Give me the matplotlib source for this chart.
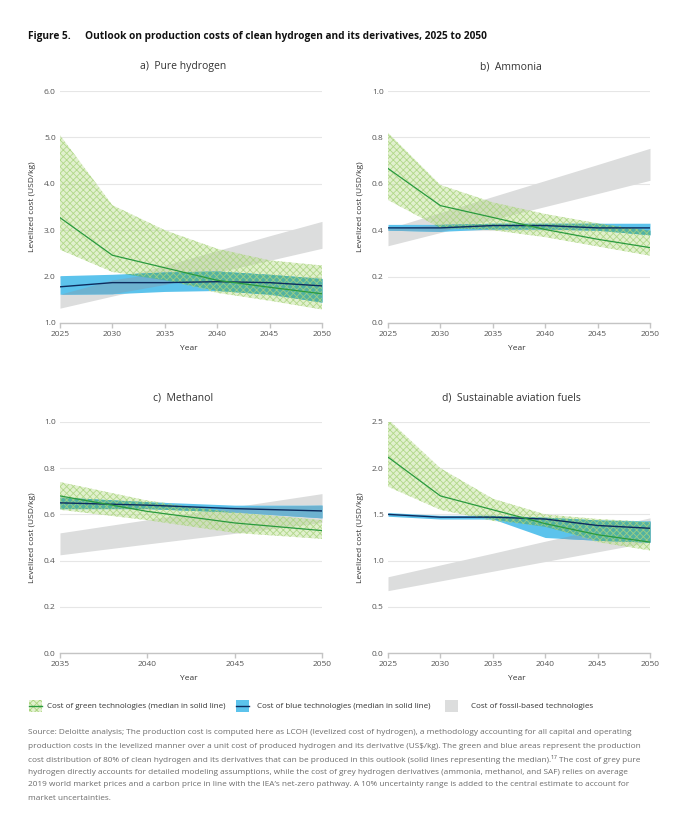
import matplotlib
matplotlib.use('Agg')
import matplotlib.pyplot as plt
import numpy as np
from matplotlib.patches import Rectangle
from matplotlib.lines import Line2D

plt.rcParams['font.family'] = ['Open Sans', 'DejaVu Sans']
plt.rcParams['hatch.linewidth'] = 0.6

W, H = 699, 827

# ---- data ----
years = [2025, 2030, 2035, 2040, 2045, 2050]
years_meoh = [2035, 2040, 2045, 2050]

h2_green_med = [3.27, 2.46, 2.19, 1.92, 1.77, 1.63]
h2_green_hi = [5.05, 3.54, 3.00, 2.60, 2.35, 2.24]
h2_green_lo = [2.58, 2.10, 1.93, 1.65, 1.48, 1.29]
h2_blue_med = [1.78, 1.87, 1.87, 1.89, 1.87, 1.80]
h2_blue_hi = [2.02, 2.05, 2.10, 2.12, 2.05, 1.96]
h2_blue_lo = [1.62, 1.63, 1.68, 1.70, 1.62, 1.45]
h2_grey_lo = [1.32, 1.58, 1.83, 2.09, 2.35, 2.61]
h2_grey_hi = [1.62, 1.93, 2.24, 2.56, 2.88, 3.19]

nh3_green_med = [0.666, 0.506, 0.455, 0.403, 0.361, 0.325]
nh3_green_hi = [0.82, 0.595, 0.52, 0.47, 0.43, 0.40]
nh3_green_lo = [0.53, 0.41, 0.40, 0.37, 0.33, 0.29]
nh3_blue_med = [0.41, 0.41, 0.42, 0.42, 0.41, 0.41]
nh3_blue_hi = [0.425, 0.425, 0.43, 0.43, 0.43, 0.43]
nh3_blue_lo = [0.40, 0.395, 0.405, 0.405, 0.40, 0.38]
nh3_grey_lo = [0.333, 0.39, 0.446, 0.502, 0.558, 0.615]
nh3_grey_hi = [0.407, 0.476, 0.545, 0.614, 0.683, 0.753]

meoh_green_med = [0.68, 0.613, 0.563, 0.53]
meoh_green_hi = [0.74, 0.66, 0.61, 0.575]
meoh_green_lo = [0.62, 0.575, 0.52, 0.494]
meoh_blue_med = [0.65, 0.64, 0.625, 0.615]
meoh_blue_hi = [0.675, 0.655, 0.64, 0.64]
meoh_blue_lo = [0.625, 0.625, 0.61, 0.585]
meoh_grey_lo = [0.425, 0.472, 0.518, 0.565]
meoh_grey_hi = [0.52, 0.577, 0.633, 0.69]

saf_green_med = [2.12, 1.70, 1.55, 1.40, 1.28, 1.20]
saf_green_hi = [2.53, 2.00, 1.67, 1.50, 1.45, 1.42]
saf_green_lo = [1.80, 1.55, 1.43, 1.37, 1.20, 1.11]
saf_blue_med = [1.50, 1.47, 1.47, 1.45, 1.38, 1.35]
saf_blue_hi = [1.52, 1.49, 1.49, 1.47, 1.44, 1.43]
saf_blue_lo = [1.48, 1.45, 1.45, 1.25, 1.22, 1.20]
saf_grey_lo = [0.675, 0.78, 0.885, 0.99, 1.095, 1.20]
saf_grey_hi = [0.825, 0.953, 1.08, 1.21, 1.335, 1.463]

GREY = '#dcdddd'
GREEN_FACE = (0.74, 0.87, 0.58, 0.45)
GREEN_HATCH = '#a9d47e'
GREEN_LINE = '#2a9a3e'
BLUE = '#5cc3ec'
BLUE_LINE = '#0d2c5e'
TEAL = '#52b2a2'
BLUE_GREY = '#6db2d0'
TXT = '#333333'
TICK = '#555555'


def fx(px):
    return px / W


def fy(py):
    return 1 - py / H


def panel(rect_px, title, x, g_med, g_hi, g_lo, b_med, b_hi, b_lo, k_lo, k_hi, yticks):
    l, t, r, b = rect_px
    ax = fig.add_axes([fx(l), fy(b), (r - l) / W, (b - t) / H])
    x = np.array(x, dtype=float)
    g_hi, g_lo = np.array(g_hi), np.array(g_lo)
    b_hi, b_lo = np.array(b_hi), np.array(b_lo)
    k_hi, k_lo = np.array(k_hi), np.array(k_lo)

    ax.fill_between(x, k_lo, k_hi, color=GREY, lw=0, zorder=1)
    ax.fill_between(x, g_lo, g_hi, facecolor=GREEN_FACE, lw=0, zorder=2)
    ax.fill_between(x, b_lo, b_hi, color=BLUE, lw=0, zorder=3)
    lo = np.maximum(b_lo, k_lo)
    hi = np.minimum(b_hi, k_hi)
    ax.fill_between(x, lo, hi, where=hi > lo, interpolate=True, color=BLUE_GREY, lw=0, zorder=4)
    lo = np.maximum(b_lo, g_lo)
    hi = np.minimum(b_hi, g_hi)
    ax.fill_between(x, lo, hi, where=hi > lo, interpolate=True, color=TEAL, lw=0, zorder=5)
    ax.fill_between(x, g_lo, g_hi, facecolor='none', edgecolor=GREEN_HATCH, hatch='xxxxx',
                    lw=0, zorder=6, alpha=0.85)
    ax.plot(x, b_med, color=BLUE_LINE, lw=1.0, zorder=7)
    ax.plot(x, g_med, color=GREEN_LINE, lw=0.9, zorder=8)

    ax.set_xlim(x[0], x[-1])
    ax.set_ylim(yticks[0], yticks[-1])
    ax.set_xticks(x)
    ax.set_xticklabels([str(int(v)) for v in x])
    ax.set_yticks(yticks)
    ax.set_yticklabels(['%.1f' % v for v in yticks])
    for s in ['top', 'right', 'left']:
        ax.spines[s].set_visible(False)
    ax.spines['bottom'].set_color('#c4c4c4')
    ax.spines['bottom'].set_linewidth(1.0)
    ax.spines['bottom'].set_zorder(9)
    ax.tick_params(axis='y', length=0, pad=3, labelsize=6, labelcolor=TICK)
    ax.tick_params(axis='x', length=3.5, width=1.0, color='#c4c4c4', pad=2,
                   labelsize=6, labelcolor=TICK)
    ax.yaxis.grid(True, color='#e6e6e6', lw=0.8)
    ax.set_axisbelow(True)

    cx = (l + r) / 2
    fig.text(fx(cx - 8), fy(t - 24), title, ha='center', va='center', fontsize=7.5, color=TXT)
    fig.text(fx(l - 27), fy((t + b) / 2), 'Levelized cost (USD/kg)', rotation=90,
             ha='center', va='center', fontsize=6, color=TXT)
    fig.text(fx(cx - 2), fy(b + 26), 'Year', ha='center', va='center', fontsize=6, color=TXT)
    return ax


fig = plt.figure(figsize=(W / 100, H / 100), dpi=100)

fig.text(fx(28), fy(37), 'Figure 5.', fontsize=7.3, fontweight='bold', va='center', color='#111111')
fig.text(fx(85), fy(37), 'Outlook on production costs of clean hydrogen and its derivatives, 2025 to 2050',
         fontsize=7.3, fontweight='bold', va='center', color='#111111')

panel((60, 91, 322, 323), 'a)  Pure hydrogen', years, h2_green_med, h2_green_hi, h2_green_lo,
      h2_blue_med, h2_blue_hi, h2_blue_lo, h2_grey_lo, h2_grey_hi, [1.0, 2.0, 3.0, 4.0, 5.0, 6.0])
panel((388, 91, 650, 323), 'b)  Ammonia', years, nh3_green_med, nh3_green_hi, nh3_green_lo,
      nh3_blue_med, nh3_blue_hi, nh3_blue_lo, nh3_grey_lo, nh3_grey_hi, [0.0, 0.2, 0.4, 0.6, 0.8, 1.0])
panel((60, 422, 322, 653), 'c)  Methanol', years_meoh, meoh_green_med, meoh_green_hi, meoh_green_lo,
      meoh_blue_med, meoh_blue_hi, meoh_blue_lo, meoh_grey_lo, meoh_grey_hi, [0.0, 0.2, 0.4, 0.6, 0.8, 1.0])
panel((388, 422, 650, 653), 'd)  Sustainable aviation fuels', years, saf_green_med, saf_green_hi, saf_green_lo,
      saf_blue_med, saf_blue_hi, saf_blue_lo, saf_grey_lo, saf_grey_hi, [0.0, 0.5, 1.0, 1.5, 2.0, 2.5])

# ---- legend ----
ly = 706


def icon(x0, face, hatch=None, line=None):
    fig.add_artist(Rectangle((fx(x0), fy(ly + 6)), 13 / W, 12 / H, transform=fig.transFigure,
                             facecolor=face, edgecolor=GREEN_HATCH if hatch else 'none',
                             hatch=hatch, lw=0))
    if line:
        fig.add_artist(Line2D([fx(x0), fx(x0 + 13)], [fy(ly), fy(ly)], transform=fig.transFigure,
                              color=line, lw=1.0))


icon(29, GREEN_FACE, hatch='xxxxx', line=GREEN_LINE)
fig.text(fx(47), fy(ly), 'Cost of green technologies (median in solid line)', fontsize=5.75,
         va='center', color=TXT)
icon(236, BLUE, line=BLUE_LINE)
fig.text(fx(257), fy(ly), 'Cost of blue technologies (median in solid line)', fontsize=5.75,
         va='center', color=TXT)
icon(445, GREY)
fig.text(fx(471), fy(ly), 'Cost of fossil-based technologies', fontsize=5.75, va='center', color=TXT)

# ---- source note ----
source_lines = [
    "Source: Deloitte analysis; The production cost is computed here as LCOH (levelized cost of hydrogen), a methodology accounting for all capital and operating",
    "production costs in the levelized manner over a unit cost of produced hydrogen and its derivative (US$/kg). The green and blue areas represent the production",
    "cost distribution of 80% of clean hydrogen and its derivatives that can be produced in this outlook (solid lines representing the median).\u00b9\u2077 The cost of grey pure",
    "hydrogen directly accounts for detailed modeling assumptions, while the cost of grey hydrogen derivatives (ammonia, methanol, and SAF) relies on average",
    "2019 world market prices and a carbon price in line with the IEA\u2019s net-zero pathway. A 10% uncertainty range is added to the central estimate to account for",
    "market uncertainties.",
]
for i, s in enumerate(source_lines):
    fig.text(fx(28), fy(733 + 13 * i), s, fontsize=5.95, va='center', color='#6b6b6b')

fig.savefig('out.png', dpi=100)
